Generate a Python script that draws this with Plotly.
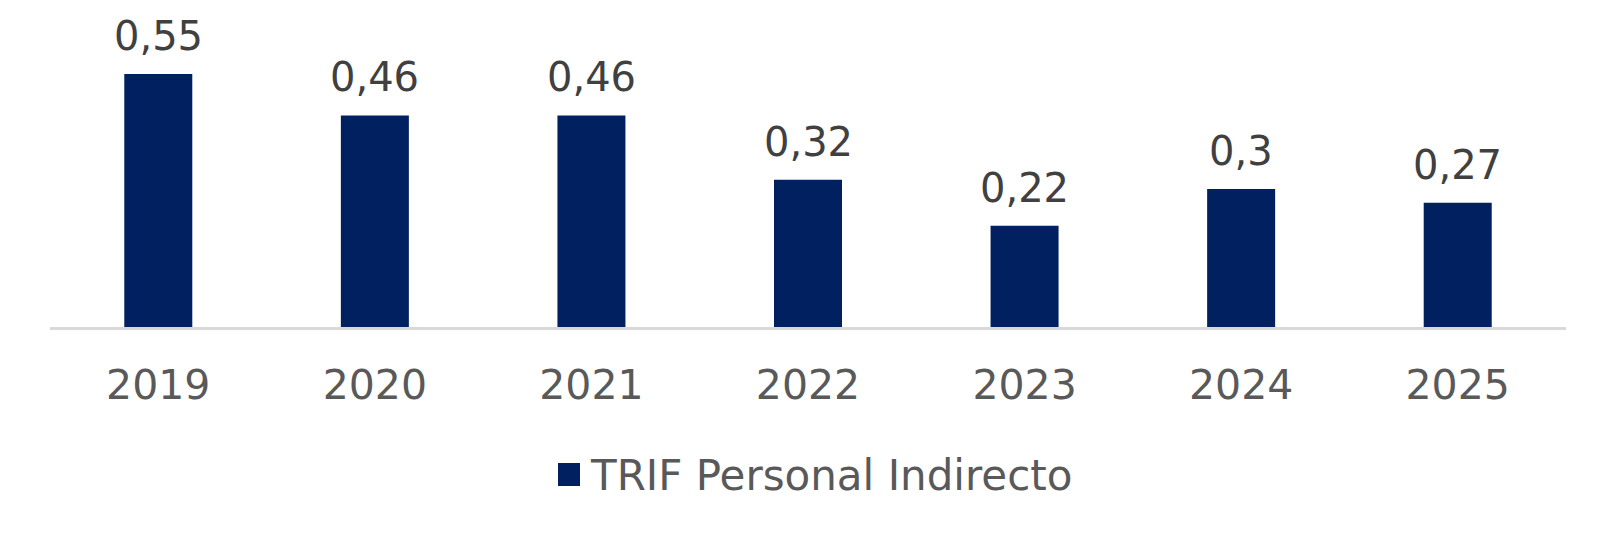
import plotly.graph_objects as go

years = ["2019", "2020", "2021", "2022", "2023", "2024", "2025"]
values = [0.55, 0.46, 0.46, 0.32, 0.22, 0.30, 0.27]
labels = ["0,55", "0,46", "0,46", "0,32", "0,22", "0,3", "0,27"]
series_name = "TRIF Personal Indirecto"

BAR_COLOR = "#00205F"
FONT = "DejaVu Sans"

# page geometry (browser body has an 8px margin)
PAGE_OFF = 8
PLOT_L, PLOT_R, PLOT_T, PLOT_B = 50, 1566, 8, 327
W, H = 1617, 541
pw, ph = PLOT_R - PLOT_L, PLOT_B - PLOT_T
px_per_unit = 460.0
ymax = ph / px_per_unit


def paper_x(px):
    return (px - PLOT_L) / pw


def paper_y(py):
    return (PLOT_B - py) / ph


fig = go.Figure()
fig.add_trace(go.Bar(
    x=years, y=values, name=series_name,
    marker=dict(color=BAR_COLOR, line=dict(width=0)),
    showlegend=False, hoverinfo="x+y",
))

# value labels, placed on the category axis by category index
for i, (v, lab) in enumerate(zip(values, labels)):
    fig.add_annotation(
        x=i, y=v, text=lab, showarrow=False, yanchor="bottom",
        yshift=13, font=dict(family=FONT, size=40, color="#404040"),
    )

# legend (square swatch + label)
fig.add_shape(
    type="rect", xref="paper", yref="paper",
    x0=paper_x(558), x1=paper_x(580), y0=paper_y(486), y1=paper_y(463),
    fillcolor=BAR_COLOR, line=dict(width=0),
)
fig.add_annotation(
    xref="paper", yref="paper", x=paper_x(587.5), y=paper_y(475),
    xanchor="left", yanchor="middle", text=series_name, showarrow=False,
    font=dict(family=FONT, size=42, color="#595959"),
)

fig.update_layout(
    width=W, height=H,
    margin=dict(l=PLOT_L - PAGE_OFF, r=W + PAGE_OFF - PLOT_R, t=0,
                b=H + PAGE_OFF - PLOT_B, autoexpand=False),
    paper_bgcolor="white", plot_bgcolor="white",
    bargap=0.686,
    font=dict(family=FONT, size=41, color="#595959"),
    xaxis=dict(
        type="category", range=[-0.5, len(years) - 0.5],
        showline=True, linecolor="#D9D9D9", linewidth=2.5,
        ticks="outside", ticklen=20, tickcolor="rgba(0,0,0,0)",
        tickfont=dict(family=FONT, size=41, color="#595959"),
        showgrid=False, automargin=False,
    ),
    yaxis=dict(range=[0, ymax], visible=False, showgrid=False, automargin=False),
    showlegend=False,
)

fig.write_html("out.html")
